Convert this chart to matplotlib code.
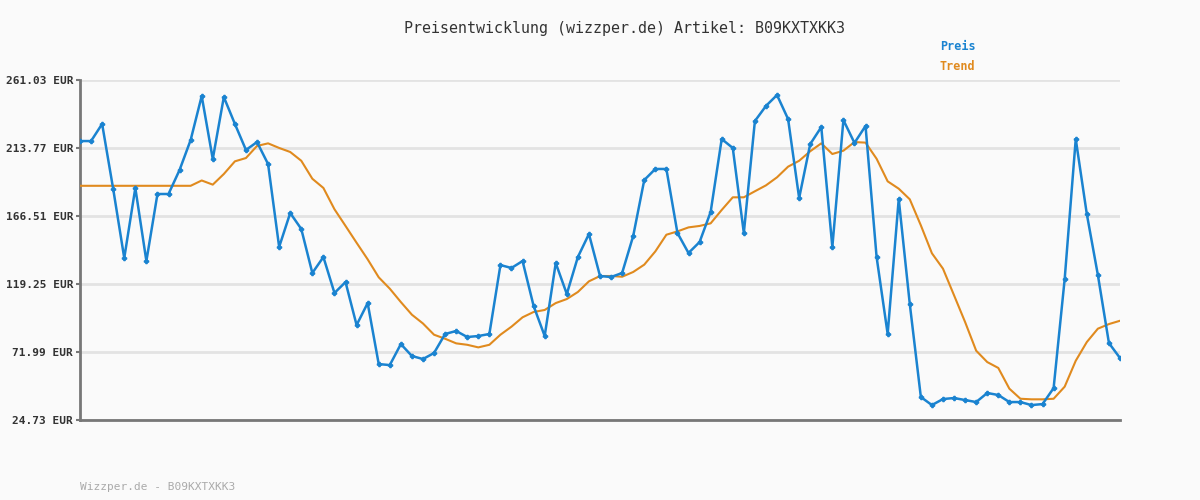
import matplotlib
matplotlib.use("Agg")
import matplotlib.pyplot as plt

# price readings (EUR), one per sample
preis = [218.6, 218.6, 230.5, 185.3, 137.3, 186.0, 135.2, 181.8, 181.8, 198.5,
         219.3, 249.9, 206.1, 249.2, 230.5, 212.4, 217.9, 202.6, 145.0, 168.6,
         157.5, 126.9, 138.0, 113.0, 120.6, 90.7, 106.0, 63.6, 62.9, 77.5,
         69.2, 67.1, 71.3, 84.5, 86.6, 82.4, 83.1, 84.5, 132.4, 130.4,
         135.2, 104.0, 83.1, 133.8, 112.3, 138.0, 154.0, 124.8,
         124.1, 126.9, 152.6, 191.5, 199.2, 199.2, 154.7, 140.8, 148.4, 169.3,
         220.0, 213.8, 154.7, 232.5, 243.0, 250.6, 233.9, 179.0, 216.5, 228.3,
         145.0, 233.2, 217.3, 229.1, 138.0, 84.5, 178.3, 105.3, 40.7, 35.1,
         39.3, 40.0, 38.6, 37.2, 43.5, 42.1, 37.2, 37.2, 35.1, 35.8,
         46.9, 122.7, 220.0, 167.9, 125.5, 78.2, 67.8]

trend = [187.5] * 11 + [
    191.2, 188.3, 195.7, 204.5, 206.8, 215.2, 217.0, 213.8, 211.0, 204.9,
    192.4, 186.0, 171.2, 159.6, 147.9, 136.4, 123.9, 116.0, 106.7, 97.9,
    91.8, 84.0, 81.2, 78.0, 77.0, 75.2, 77.0, 84.0, 89.6, 96.1,
    99.8, 101.2, 106.0, 108.8, 113.7, 121.1, 124.8,
    124.8, 124.3, 127.6, 132.7, 141.9, 153.5, 155.8, 158.6, 159.6, 161.4,
    170.7, 179.5, 179.5, 183.7, 187.8, 193.4, 200.8, 204.9, 211.5, 217.0,
    209.6, 211.9, 217.9, 217.5, 206.3, 190.6, 185.5, 178.1, 160.0, 140.6,
    129.9, 111.4, 92.8, 72.9, 65.0, 60.9, 46.5, 39.5, 39.1, 39.1,
    39.5, 47.9, 65.9, 78.9, 88.2, 91.4, 93.7]

yticks = [24.73, 71.99, 119.25, 166.51, 213.77, 261.03]

plt.rcParams['font.family'] = 'DejaVu Sans Mono'
bg = '#fafafa'
fig = plt.figure(figsize=(12, 5), dpi=100, facecolor=bg)
ax = fig.add_axes([80 / 1200, 0.16, 1040 / 1200, 0.68], facecolor=bg)

x = list(range(len(preis)))
ax.plot(x, trend, color='#e08a1e', lw=1.5, zorder=3)
ax.plot(x, preis, color='#1a83d0', lw=1.8, marker='P', ms=3, zorder=4)

ax.set_xlim(0, len(preis) - 1)
ax.set_ylim(yticks[0], yticks[-1])
ax.set_yticks(yticks)
ax.set_yticklabels([f"{v:.2f} EUR" for v in yticks], fontsize=8, fontweight='bold', color='#333')
ax.set_xticks([])
ax.tick_params(axis='y', length=3, pad=2, color='#777', width=1.5)
ax.grid(axis='y', color='#e3e3e3', lw=2)
ax.set_axisbelow(True)
for s in ['top', 'right']:
    ax.spines[s].set_visible(False)
for s in ['left', 'bottom']:
    ax.spines[s].set_color('#777')
    ax.spines[s].set_linewidth(2)

fig.text(624 / 1200, 1 - 28 / 500, "Preisentwicklung (wizzper.de) Artikel: B09KXTXKK3",
         ha='center', va='center', fontsize=10.8, color='#333')
fig.text(940 / 1200, 1 - 47 / 500, "Preis", color='#1a83d0', fontsize=8.5,
         fontweight='bold', va='center')
fig.text(940 / 1200, 1 - 67 / 500, "Trend", color='#e08a1e', fontsize=8.5,
         fontweight='bold', va='center')
fig.text(80 / 1200, 1 - 487 / 500, "Wizzper.de - B09KXTXKK3", color='#aaa',
         fontsize=8, va='center')

fig.savefig("out.png", dpi=100, facecolor=bg)
